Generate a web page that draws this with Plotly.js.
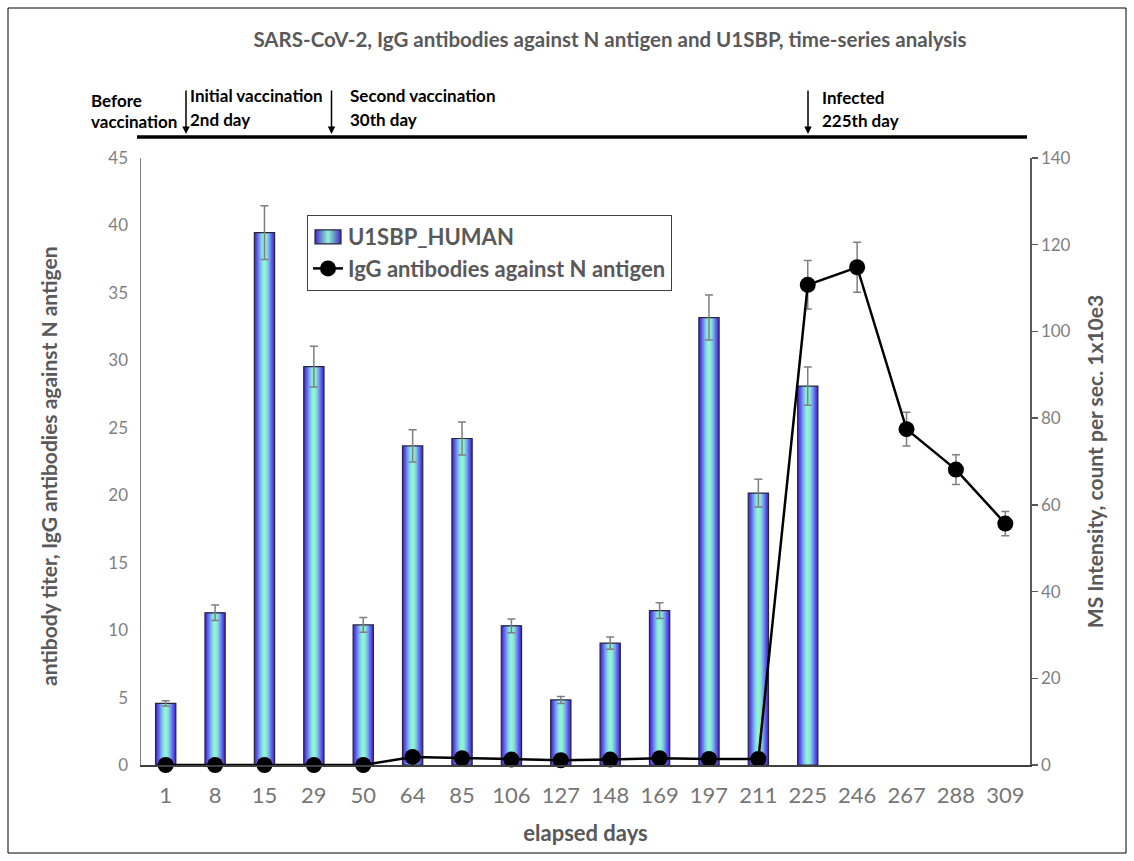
<!DOCTYPE html>
<html><head><meta charset="utf-8">
<script src="https://cdn.plot.ly/plotly-3.0.1.min.js"></script>
<style>html,body{margin:0;padding:0;background:#fff}#chart{width:1134px;height:861px}</style>
</head><body><div id="chart"></div>
<script>
// ---- data ----
const days = ['1','8','15','29','50','64','85','106','127','148','169','197','211','225','246','267','288','309'];
const msIntensity = [14.2, 35.1, 122.8, 91.9, 32.3, 73.6, 75.3, 32.1, 15.0, 28.1, 35.6, 103.2, 62.7, 87.4, null, null, null, null];
const msError = [0.6, 1.8, 6.2, 4.7, 1.7, 3.7, 3.8, 1.6, 0.8, 1.4, 1.8, 5.2, 3.2, 4.4, null, null, null, null];
const titer = [0, 0, 0, 0, 0, 0.6, 0.5, 0.4, 0.35, 0.4, 0.5, 0.45, 0.45, 35.6, 36.9, 24.9, 21.9, 17.9];
const titerError = [0, 0, 0, 0, 0, 0, 0, 0, 0, 0, 0, 0, 0, 1.8, 1.85, 1.25, 1.1, 0.9];
const eventLines = [
  ['Before', 'vaccination'],
  ['Initial vaccination', '2nd day'],
  ['Second vaccination', '30th day'],
  ['Infected', '225th day']
];
const leftTitle = 'antibody titer, IgG antibodies against N antigen';
const rightTitle = 'MS Intensity, count per sec. 1x10e3';

// ---- layout helpers ----
const W = 1134, H = 861;
const M = {l: 141, r: 104, t: 158, b: 96};
const PW = W - M.l - M.r, PH = H - M.t - M.b;
const X = px => (px - M.l) / PW;
const Y = py => (H - M.b - py) / PH;
const FONT = 'Lato, "Open Sans", sans-serif';

const gradStops = [[0, [68, 40, 205]], [0.3, [98, 100, 238]], [0.55, [118, 170, 240]], [0.8, [138, 228, 218]], [1, [146, 246, 210]]];
function gradColor(t) {
  for (let k = 1; k < gradStops.length; k++) {
    if (t <= gradStops[k][0]) {
      const [t0, c0] = gradStops[k - 1], [t1, c1] = gradStops[k];
      const f = (t - t0) / (t1 - t0);
      return 'rgb(' + c0.map((v, j) => Math.round(v + (c1[j] - v) * f)).join(',') + ')';
    }
  }
  return 'rgb(' + gradStops[gradStops.length - 1][1].join(',') + ')';
}

const BAR_W = 0.41, LAYERS = 14;
const traces = [];
for (let i = 0; i < LAYERS; i++) {
  traces.push({
    type: 'bar', x: days, y: msIntensity, yaxis: 'y', xaxis: 'x',
    width: BAR_W * (1 - i / LAYERS),
    marker: {color: gradColor(i / (LAYERS - 1)), line: {width: 0}},
    name: 'U1SBP_HUMAN', showlegend: i === 0, legendgroup: 'bar', hoverinfo: 'skip'
  });
}
traces.push({
  type: 'bar', x: days, y: msIntensity, yaxis: 'y', xaxis: 'x', width: BAR_W,
  marker: {color: 'rgba(0,0,0,0)', line: {color: '#262640', width: 1.2}},
  error_y: {type: 'data', array: msError, visible: true, color: '#7f7f7f', thickness: 1.5, width: 4},
  showlegend: false, legendgroup: 'bar', hoverinfo: 'skip'
});
traces.push({
  type: 'scatter', mode: 'lines+markers', x: days, y: titer, yaxis: 'y2', xaxis: 'x',
  name: 'IgG antibodies against N antigen',
  line: {color: '#000', width: 2.5},
  marker: {color: '#000', size: 16},
  error_y: {type: 'data', array: titerError, visible: true, color: '#7f7f7f', thickness: 1.5, width: 4},
  cliponaxis: false
});

const annFont = {family: FONT, size: 17, color: '#000', weight: 'bold'};
const axTitleFont = {family: FONT, size: 21, color: '#595959', weight: 'bold'};
const textAnn = (txt, px, py) => ({text: txt, x: X(px), y: Y(py), xref: 'paper', yref: 'paper', xanchor: 'left', yanchor: 'middle', showarrow: false, font: annFont});
const arrowAnn = (px) => ({text: '', x: X(px), y: Y(134), xref: 'paper', yref: 'paper', ax: 0, ay: -45, showarrow: true, arrowhead: 2, arrowsize: 1, arrowwidth: 1.5, arrowcolor: '#000'});

const annotations = [
  textAnn(eventLines[0][0], 89, 100), textAnn(eventLines[0][1], 89, 122),
  textAnn(eventLines[1][0], 188, 95), textAnn(eventLines[1][1], 188, 119),
  textAnn(eventLines[2][0], 348, 95), textAnn(eventLines[2][1], 348, 119),
  textAnn(eventLines[3][0], 820, 98), textAnn(eventLines[3][1], 820, 121),
  arrowAnn(186), arrowAnn(331.5), arrowAnn(808),
  {text: leftTitle, textangle: -90, x: X(48), y: Y(466), xref: 'paper', yref: 'paper', xanchor: 'center', yanchor: 'middle', showarrow: false, font: axTitleFont}
];

const tickFont = {family: FONT, size: 17, color: '#7f7f7f'};

const layout = {
  width: W, height: H,
  margin: M,
  paper_bgcolor: '#fff', plot_bgcolor: '#fff',
  barmode: 'overlay',
  showlegend: true,
  title: {text: 'SARS-CoV-2, IgG antibodies against N antigen and U1SBP, time-series analysis',
    x: 610 / W, xanchor: 'center', xref: 'container', y: 1 - 40 / H, yanchor: 'middle', yref: 'container',
    font: {family: FONT, size: 20.5, color: '#595959', weight: 'bold'}},
  xaxis: {type: 'category', range: [-0.5, 17.5], showline: true, linecolor: '#404040', linewidth: 1.5,
    ticks: '', showgrid: false, zeroline: false, ticklabelstandoff: 10,
    tickfont: {family: FONT, size: 22, color: '#767676'},
    title: {text: 'elapsed days', font: {family: FONT, size: 22, color: '#595959', weight: 'bold'}, standoff: 18}},
  yaxis: {side: 'right', range: [0, 140], dtick: 20, showline: true, linecolor: '#595959', linewidth: 1.5,
    ticks: 'outside', ticklen: 6, tickcolor: '#595959', tickwidth: 1.5, showgrid: false, zeroline: false,
    tickfont: tickFont,
    title: {text: rightTitle, font: axTitleFont, standoff: 18}},
  yaxis2: {overlaying: 'y', side: 'left', range: [0, 45], dtick: 5, showline: true, linecolor: '#7f7f7f', linewidth: 1.5,
    ticks: '', showgrid: false, zeroline: false, tickfont: tickFont, ticklabelstandoff: 8},
  legend: {x: X(307), y: Y(215), xanchor: 'left', yanchor: 'top', bgcolor: '#fff', bordercolor: '#404040', borderwidth: 1,
    font: {family: FONT, size: 22, color: '#595959', weight: 'bold'}, itemwidth: 30, tracegroupgap: 0},
  annotations: annotations,
  shapes: [
    {type: 'line', xref: 'paper', yref: 'paper', x0: X(137), x1: X(1027), y0: Y(137), y1: Y(137), line: {color: '#000', width: 3.5}},
    {type: 'rect', xref: 'paper', yref: 'paper', x0: X(8), x1: X(1126), y0: Y(853), y1: Y(8), line: {color: '#000', width: 1}, fillcolor: 'rgba(0,0,0,0)'}
  ]
};

Plotly.newPlot('chart', traces, layout, {displayModeBar: false, staticPlot: true}).then(gd => {
  // gradient legend swatch for the bar series
  const svg = gd.querySelector('.main-svg');
  const defs = svg.querySelector('defs');
  const NS = 'http://www.w3.org/2000/svg';
  const lg = document.createElementNS(NS, 'linearGradient');
  lg.setAttribute('id', 'barSwatchGrad');
  lg.setAttribute('x1', '0'); lg.setAttribute('x2', '1'); lg.setAttribute('y1', '0'); lg.setAttribute('y2', '0');
  [[0, 0], [0.5, 1], [1, 0]].forEach(([off, t]) => {
    const s = document.createElementNS(NS, 'stop');
    s.setAttribute('offset', off);
    s.setAttribute('stop-color', gradColor(t));
    lg.appendChild(s);
  });
  defs.appendChild(lg);
  const sw = gd.querySelector('.legend .traces .legendpoints path');
  if (sw) {
    sw.setAttribute('d', 'M13,7H-13V-7H13Z');
    sw.style.fill = 'url(#barSwatchGrad)'; sw.style.stroke = '#262640'; sw.style.strokeWidth = '1.2px';
  }
});
</script>
</body></html>
